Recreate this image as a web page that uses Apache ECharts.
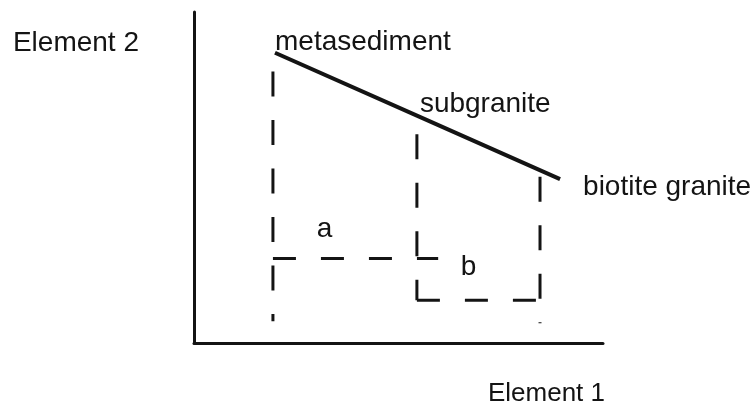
<!DOCTYPE html>
<html>
<head>
<meta charset="utf-8">
<title>Element 1 vs Element 2</title>
<script src="https://cdn.jsdelivr.net/npm/echarts@6/dist/echarts.min.js"></script>
<style>
  html, body { margin: 0; padding: 0; background: #ffffff; }
  #main { width: 754px; height: 407px; }
</style>
</head>
<body>
<div id="main"></div>
<script>
// trend line: metasediment -> subgranite -> biotite granite
var trendNames = ['metasediment', 'subgranite', 'biotite granite'];
var trendX = [19.8, 54.5, 89.5];
var trendY = [87.7, 68.7, 49.5];

// vertical dashed drop lines (left, middle, right)
var dropX = [19.3, 54.5, 84.6];
var dropTop = [82.0, 63.1, 50.2];
var dropBottom = [6.6, 12.9, 6.0];

// horizontal dashed lines for the fields a and b
var fieldNames = ['a', 'b'];
var fieldStartX = [19.3, 54.5];
var fieldEndX = [59.7, 84.6];
var fieldLevel = [25.5, 12.9];
var fieldLabelX = [31.9, 67.1];
var fieldLabelY = [34.4, 23.0];

var ink = '#141414';
var font = "'Liberation Sans', Arial, Helvetica, sans-serif";

// label offsets for the trend point names (text left edge / middle)
var trendLabelPos = [[0, -10], [3, -11], [23, 8]];

var chart = echarts.init(document.getElementById('main'), null, { renderer: 'canvas' });

var series = [];

// solid trend line
series.push({
  type: 'line',
  silent: true,
  symbol: 'none',
  data: trendX.map(function (x, i) { return [x, trendY[i]]; }),
  lineStyle: { color: ink, width: 4 },
  z: 3
});

// dashed verticals
for (var i = 0; i < dropX.length; i++) {
  series.push({
    type: 'line',
    silent: true,
    symbol: 'none',
    data: [[dropX[i], dropTop[i]], [dropX[i], dropBottom[i]]],
    lineStyle: { color: ink, width: 3, type: [25, 23.5] }
  });
}

// dashed horizontals
for (var j = 0; j < fieldNames.length; j++) {
  series.push({
    type: 'line',
    silent: true,
    symbol: 'none',
    data: [[fieldStartX[j], fieldLevel[j]], [fieldEndX[j], fieldLevel[j]]],
    lineStyle: { color: ink, width: 3, type: [23, 25] }
  });
}

var labelText = {
  show: true,
  formatter: '{b}',
  color: ink,
  opacity: 1,
  textBorderWidth: 0,
  fontSize: 28,
  fontFamily: font
};

// names of the trend points
series.push({
  type: 'scatter',
  silent: true,
  symbolSize: 0,
  itemStyle: { color: ink },
  data: trendX.map(function (x, i) {
    return {
      name: trendNames[i],
      value: [x, trendY[i]],
      label: { position: trendLabelPos[i] }
    };
  }),
  label: Object.assign({ align: 'left', verticalAlign: 'middle' }, labelText),
  z: 4
});

// field labels a, b
series.push({
  type: 'scatter',
  silent: true,
  symbolSize: 0,
  itemStyle: { color: ink },
  data: fieldNames.map(function (n, i) {
    return { name: n, value: [fieldLabelX[i], fieldLabelY[i]] };
  }),
  label: Object.assign({ position: [0, 0], align: 'center', verticalAlign: 'middle' }, labelText),
  z: 4
});

var option = {
  backgroundColor: '#ffffff',
  animation: false,
  grid: { left: 194, top: 12, right: 151, bottom: 62 },
  xAxis: {
    type: 'value',
    min: 0,
    max: 100,
    name: 'Element 1',
    nameLocation: 'end',
    nameGap: 2,
    nameTextStyle: {
      color: ink,
      fontSize: 26,
      fontFamily: font,
      align: 'right',
      verticalAlign: 'top',
      lineHeight: 26,
      padding: [38, 0, 0, 0]
    },
    axisLine: { show: true, lineStyle: { color: ink, width: 3 } },
    axisTick: { show: false },
    axisLabel: { show: false },
    splitLine: { show: false }
  },
  yAxis: {
    type: 'value',
    min: 0,
    max: 100,
    name: 'Element 2',
    nameLocation: 'end',
    nameGap: -31,
    nameTextStyle: {
      color: ink,
      fontSize: 28,
      fontFamily: font,
      align: 'right',
      verticalAlign: 'middle',
      padding: [0, 55, 0, 0]
    },
    axisLine: { show: true, lineStyle: { color: ink, width: 3 } },
    axisTick: { show: false },
    axisLabel: { show: false },
    splitLine: { show: false }
  },
  series: series
};

chart.setOption(option);
</script>
</body>
</html>
